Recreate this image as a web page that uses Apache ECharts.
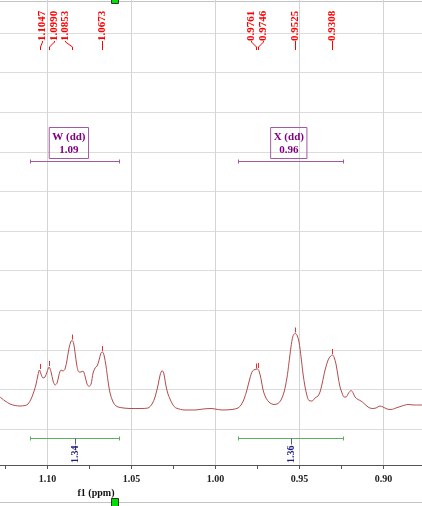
<!DOCTYPE html>
<html style="height: 100%;">
<head>
    <meta charset="UTF-8">
    <script src="https://cdn.jsdelivr.net/npm/echarts@6/dist/echarts.min.js"></script>
</head>
<body style="height: 100%; margin: 0; background: #fff;">
    <div id="chart" style="width: 422px; height: 506px;"></div>

    <script type="text/javascript">
        // spectrum trace: chemical shift (ppm) and intensity
        var ppm = [
            1.1283, 1.1253, 1.1223, 1.1193, 1.1164, 1.1134, 1.1116, 1.1098, 1.1080, 1.1068,
            1.1057, 1.1048, 1.1039, 1.1027, 1.1015, 1.1003, 1.0991, 1.0979, 1.0967, 1.0955,
            1.0943, 1.0932, 1.0920, 1.0908, 1.0896, 1.0884, 1.0872, 1.0860, 1.0854, 1.0845,
            1.0836, 1.0825, 1.0813, 1.0801, 1.0789, 1.0777, 1.0765, 1.0753, 1.0741, 1.0729,
            1.0717, 1.0705, 1.0693, 1.0682, 1.0673, 1.0664, 1.0652, 1.0640, 1.0628, 1.0610,
            1.0592, 1.0568, 1.0509, 1.0449, 1.0402, 1.0378, 1.0360, 1.0342, 1.0330, 1.0318,
            1.0307, 1.0295, 1.0283, 1.0271, 1.0253, 1.0235, 1.0182, 1.0122, 1.0074, 1.0027,
            1.0003, 0.9961, 0.9902, 0.9866, 0.9848, 0.9830, 0.9813, 0.9795, 0.9780, 0.9765,
            0.9750, 0.9741, 0.9729, 0.9717, 0.9700, 0.9676, 0.9652, 0.9628, 0.9610, 0.9592,
            0.9575, 0.9563, 0.9551, 0.9539, 0.9527, 0.9515, 0.9503, 0.9491, 0.9479, 0.9467,
            0.9455, 0.9444, 0.9426, 0.9408, 0.9390, 0.9378, 0.9366, 0.9348, 0.9330, 0.9315,
            0.9304, 0.9295, 0.9283, 0.9271, 0.9259, 0.9247, 0.9235, 0.9223, 0.9208, 0.9193,
            0.9181, 0.9170, 0.9152, 0.9134, 0.9116, 0.9092, 0.9068, 0.9045, 0.9021, 0.9003,
            0.8979, 0.8955, 0.8926, 0.8890, 0.8854, 0.8818, 0.8771
        ];
        var intensity = [
            13, 9, 6, 4.5, 4, 4.5, 6, 11, 19, 26,
            35, 40, 36, 32, 33, 38, 43, 38, 29, 25,
            27, 35, 40, 39, 41, 50, 62, 69, 69.5, 67,
            57, 44, 38, 38, 39, 34, 26, 23.5, 26, 37,
            42, 44, 50, 57, 58, 55, 44, 29, 17, 8,
            4, 2.5, 1.5, 1.5, 2, 6, 13, 25, 35, 39.5,
            36, 24, 16, 11, 5, 2, 0, 0, 1, 1.5,
            1, 0, 0.5, 2, 5, 11, 20, 32, 39, 40.5,
            41, 39, 31, 20, 12, 7, 5.5, 6.5, 10, 18,
            32, 47, 63, 74, 76.5, 75, 68, 53, 36, 23,
            14, 9.5, 9, 12, 14, 18, 26, 40, 50, 54,
            55, 53, 46, 34, 23, 17, 13, 13, 17, 19.5,
            17, 13, 10.5, 9, 6.5, 3, 1.5, 2, 4, 3,
            1, 0.5, 2, 4, 5.5, 5, 5
        ];

        // picked peaks
        var peakPpm = [1.1047, 1.0990, 1.0853, 1.0673, 0.9761, 0.9746, 0.9525, 0.9308];
        var peakHeight = [40, 43, 69.5, 58, 40.5, 41, 76.5, 55];

        // multiplets and their integrals
        var multName = ['W', 'X'];
        var multType = ['dd', 'dd'];
        var multShift = [1.0873, 0.9564];
        var multFrom = [1.1102, 0.9864];
        var multTo = [1.0573, 0.9241];
        var integral = [1.34, 1.36];

        // axis
        var tickValues = [1.125, 1.10, 1.075, 1.05, 1.025, 1.00, 0.975, 0.95, 0.925, 0.90];
        var labelValues = [1.10, 1.05, 1.00, 0.95, 0.90];

        var serif = '"Liberation Serif", "DejaVu Serif", serif';

        // spread crowded peak labels evenly around the mean of their group
        function spreadLabels(xs, groupGap, step) {
            var order = xs.map(function (x, i) { return i; }).sort(function (a, b) { return xs[a] - xs[b]; });
            var out = [];
            var group = [];
            function flush() {
                if (!group.length) return;
                var mean = group.reduce(function (s, i) { return s + xs[i]; }, 0) / group.length;
                group.forEach(function (idx, k) {
                    out[idx] = mean + (k - (group.length - 1) / 2) * step;
                });
                group = [];
            }
            order.forEach(function (idx) {
                if (group.length && xs[idx] - xs[group[group.length - 1]] > groupGap) flush();
                group.push(idx);
            });
            flush();
            return out;
        }

        function renderPeak(params, api) {
            var i = params.dataIndex;
            var xs = peakPpm.map(function (p) { return api.coord([p, 0])[0]; });
            var lx = Math.round(spreadLabels(xs, 25, 11.5)[i]) + 0.5;
            var top = api.coord([api.value(0), api.value(1)]);
            var px = Math.round(top[0]) + 0.5;
            return {
                type: 'group',
                children: [
                    {
                        type: 'text', x: lx, y: 41, rotation: Math.PI / 2,
                        style: {
                            text: peakPpm[i].toFixed(4), fill: '#ff0000',
                            font: 'bold 11px ' + serif, align: 'left', verticalAlign: 'middle'
                        }
                    },
                    {
                        type: 'polyline',
                        shape: { points: [[lx, 41], [lx, 42], [px, 47], [px, 50]] },
                        style: { stroke: '#ff0000', fill: null, lineWidth: 1 }
                    },
                    {
                        type: 'line',
                        shape: { x1: px, y1: top[1] - 1, x2: px, y2: top[1] - 6 },
                        style: { stroke: '#e83030', lineWidth: 1 }
                    }
                ]
            };
        }

        function renderMultiplet(params, api) {
            var i = params.dataIndex;
            var cx = api.coord([multShift[i], 0])[0];
            var x1 = Math.round(api.coord([multFrom[i], 0])[0]) + 0.5;
            var x2 = Math.round(api.coord([multTo[i], 0])[0]) + 0.5;
            var mid = Math.round((x1 + x2) / 2) + 0.5;
            var my = 161.5, iy = 438.5;
            var purple = '#a458a4', green = '#5caf5c';
            return {
                type: 'group',
                children: [
                    {
                        type: 'text', x: cx, y: my - 3,
                        style: {
                            text: multName[i] + ' (' + multType[i] + ')\n' + multShift[i].toFixed(2),
                            fill: '#800080', font: 'bold 11px ' + serif, lineHeight: 13,
                            align: 'center', verticalAlign: 'bottom',
                            padding: [3, 3, 2, 3], borderColor: purple, borderWidth: 1
                        }
                    },
                    { type: 'line', shape: { x1: x1, y1: my, x2: x2, y2: my }, style: { stroke: purple, lineWidth: 1 } },
                    { type: 'line', shape: { x1: x1, y1: my - 2, x2: x1, y2: my + 2 }, style: { stroke: purple, lineWidth: 1 } },
                    { type: 'line', shape: { x1: x2, y1: my - 2, x2: x2, y2: my + 2 }, style: { stroke: purple, lineWidth: 1 } },
                    { type: 'line', shape: { x1: x1, y1: iy, x2: x2, y2: iy }, style: { stroke: green, lineWidth: 1 } },
                    { type: 'line', shape: { x1: x1, y1: iy - 2, x2: x1, y2: iy + 2 }, style: { stroke: green, lineWidth: 1 } },
                    { type: 'line', shape: { x1: x2, y1: iy - 2, x2: x2, y2: iy + 2 }, style: { stroke: green, lineWidth: 1 } },
                    { type: 'line', shape: { x1: mid, y1: iy, x2: mid, y2: iy + 6 }, style: { stroke: '#5a5a9a', lineWidth: 1 } },
                    {
                        type: 'text', x: mid, y: iy + 7, rotation: Math.PI / 2,
                        style: {
                            text: integral[i].toFixed(2), fill: '#1a1a80',
                            font: 'bold 10px ' + serif, align: 'right', verticalAlign: 'middle'
                        }
                    }
                ]
            };
        }

        var chart = echarts.init(document.getElementById('chart'));

        var option = {
            animation: false,
            backgroundColor: '#ffffff',
            grid: [
                { left: 0, right: 0, top: 0, bottom: 41 },
                { left: 0, right: 0, top: 33, bottom: 77 }   // horizontal grid lines only
            ],
            xAxis: [
                {
                    type: 'value', gridIndex: 0, inverse: true,
                    min: 0.8771, max: 1.1283,
                    axisLine: { onZero: false, lineStyle: { color: '#555555' } },
                    axisTick: { customValues: tickValues, length: 4, lineStyle: { color: '#555555' } },
                    axisLabel: {
                        customValues: labelValues, margin: 9,
                        formatter: function (v) { return v.toFixed(2); },
                        color: '#222222', fontFamily: serif, fontWeight: 'bold', fontSize: 10
                    },
                    splitLine: { show: false },
                    name: 'f1 (ppm)', nameLocation: 'middle', nameGap: 20,
                    nameTextStyle: {
                        color: '#111111', fontFamily: serif, fontWeight: 'bold', fontSize: 10,
                        padding: [0, 230, 0, 0]
                    }
                },
                { type: 'value', gridIndex: 1, show: false, min: 0, max: 1 }
            ],
            yAxis: [
                { type: 'value', gridIndex: 0, min: -55, max: 410, show: false },
                {
                    type: 'value', gridIndex: 1, min: 0, max: 10, interval: 1,
                    axisLine: { show: false }, axisTick: { show: false }, axisLabel: { show: false },
                    splitLine: { lineStyle: { color: '#dcdcdc', width: 1 } }
                }
            ],
            graphic: [
                { type: 'line', shape: { x1: 0, y1: 1.5, x2: 422, y2: 1.5 }, style: { stroke: '#c4c4c4', lineWidth: 1 } },
                { type: 'line', shape: { x1: 0, y1: 502.5, x2: 422, y2: 502.5 }, style: { stroke: '#c4c4c4', lineWidth: 1 } },
                { type: 'rect', shape: { x: 111.5, y: -4.5, width: 7, height: 8 }, style: { fill: '#00e000', stroke: '#333333' } },
                { type: 'rect', shape: { x: 111.5, y: 498.5, width: 7, height: 8 }, style: { fill: '#00e000', stroke: '#333333' } }
            ],
            series: [
                {
                    // vertical grid lines at the labelled shifts
                    type: 'line', xAxisIndex: 0, yAxisIndex: 0, data: [], z: 1,
                    markLine: {
                        silent: true, symbol: ['none', 'none'], z: 1,
                        label: { show: false },
                        lineStyle: { type: 'solid', color: '#d4d4d4', width: 1 },
                        data: labelValues.map(function (v) { return { xAxis: v }; })
                    }
                },
                {
                    name: 'spectrum', type: 'line', xAxisIndex: 0, yAxisIndex: 0,
                    data: ppm.map(function (p, i) { return [p, intensity[i]]; }),
                    symbol: 'none', smooth: 0.3, z: 3,
                    lineStyle: { color: '#b34c4c', width: 1 }
                },
                {
                    type: 'custom', xAxisIndex: 0, yAxisIndex: 0, silent: true, z: 4,
                    data: peakPpm.map(function (p, i) { return [p, peakHeight[i]]; }),
                    renderItem: renderPeak
                },
                {
                    type: 'custom', xAxisIndex: 0, yAxisIndex: 0, silent: true, z: 4,
                    data: multShift.map(function (s, i) { return [s, i]; }),
                    renderItem: renderMultiplet
                }
            ]
        };

        chart.setOption(option);
        window.addEventListener('resize', chart.resize);
    </script>
</body>
</html>
